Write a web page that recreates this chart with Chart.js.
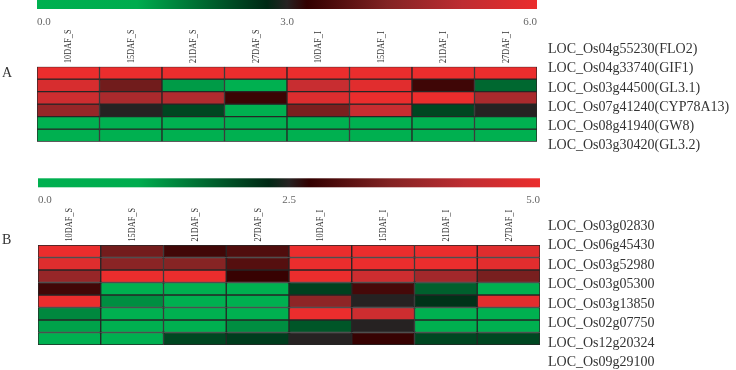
<!DOCTYPE html>
<html>
<head>
<meta charset="utf-8">
<script src="https://cdn.jsdelivr.net/npm/chart.js"></script>
<style>
  body { margin: 0; background: #fff; }
  #wrap { position: relative; width: 736px; height: 370px; }
  canvas { position: absolute; left: 0; top: 0; }
</style>
</head>
<body>
<div id="wrap">
  <canvas id="heatA" width="736" height="370"></canvas>
  <canvas id="heatB" width="736" height="370"></canvas>
</div>
<script>
// kolumner (stadier)
const columns = ["10DAF_S", "15DAF_S", "21DAF_S", "27DAF_S", "10DAF_I", "15DAF_I", "21DAF_I", "27DAF_I"];

// panel A
const genesA = ["LOC_Os04g55230(FLO2)", "LOC_Os04g33740(GIF1)", "LOC_Os03g44500(GL3.1)",
  "LOC_Os07g41240(CYP78A13)", "LOC_Os08g41940(GW8)", "LOC_Os03g30420(GL3.2)"];
const valuesA = [
  [6.0, 6.0, 6.0, 6.0, 6.0, 6.0, 6.0, 6.0],
  [5.6, 4.0, 1.4, 0.0, 5.3, 5.8, 3.4, 2.0],
  [5.4, 4.8, 4.9, 3.35, 5.7, 6.0, 6.0, 4.8],
  [4.5, 3.0, 2.4, 0.0, 4.1, 5.3, 2.4, 3.0],
  [0.0, 0.0, 0.0, 0.0, 0.0, 0.0, 0.0, 0.0],
  [0.0, 0.0, 0.0, 0.0, 0.0, 0.0, 0.0, 0.0]
];
const maxA = 6;
const ticksA = ["0.0", "3.0", "6.0"];

// panel B
const genesB = ["LOC_Os03g02830", "LOC_Os06g45430", "LOC_Os03g52980", "LOC_Os03g05300",
  "LOC_Os03g13850", "LOC_Os02g07750", "LOC_Os12g20324", "LOC_Os09g29100"];
const valuesB = [
  [5.0, 3.35, 2.85, 3.0, 5.0, 5.0, 5.0, 4.8],
  [4.8, 3.6, 3.55, 3.05, 5.0, 5.0, 5.0, 4.85],
  [3.75, 5.0, 5.0, 2.75, 5.0, 4.5, 3.9, 3.4],
  [2.85, 0.0, 0.0, 0.0, 2.05, 2.9, 1.75, 0.0],
  [5.0, 1.3, 0.0, 0.0, 3.65, 2.5, 2.2, 4.85],
  [1.35, 0.0, 0.0, 0.0, 5.0, 4.5, 0.0, 0.0],
  [1.1, 0.0, 0.0, 1.3, 1.85, 2.5, 0.3, 0.0],
  [0.0, 0.0, 2.0, 2.1, 2.5, 2.75, 2.0, 2.0]
];
const maxB = 5;
const ticksB = ["0.0", "2.5", "5.0"];

// färgskala grön - svart - röd
const colorStops = [
  [0.0, 0, 176, 80],
  [0.2, 0, 172, 78],
  [0.46, 0, 40, 20],
  [0.5, 38, 34, 34],
  [0.54, 50, 0, 0],
  [0.7, 130, 35, 35],
  [0.85, 190, 45, 50],
  [1.0, 235, 45, 45]
];

function colorFor(v, max) {
  const t = Math.min(1, Math.max(0, v / max));
  for (let i = 1; i < colorStops.length; i++) {
    const a = colorStops[i - 1], b = colorStops[i];
    if (t <= b[0]) {
      const f = (t - a[0]) / (b[0] - a[0]);
      const c = [1, 2, 3].map(k => Math.round(a[k] + (b[k] - a[k]) * f));
      return "rgb(" + c.join(",") + ")";
    }
  }
  return "rgb(235,45,45)";
}

const serif = '"Liberation Serif", "DejaVu Serif", serif';

// ritar färgskala, etiketter och gennamn
const decorations = {
  id: "decorations",
  afterDraw(chart) {
    const o = chart.options.plugins.decorations;
    const ctx = chart.ctx;
    const area = chart.chartArea;
    const xs = chart.scales.x;
    ctx.save();

    // färgstapel
    const grad = ctx.createLinearGradient(area.left, 0, area.right, 0);
    colorStops.forEach(s => grad.addColorStop(s[0], "rgb(" + s[1] + "," + s[2] + "," + s[3] + ")"));
    ctx.fillStyle = grad;
    ctx.fillRect(area.left, o.barTop, area.right - area.left, o.barHeight);

    ctx.fillStyle = "#666";
    ctx.font = "11px " + serif;
    ctx.textBaseline = "middle";
    ctx.textAlign = "left";
    ctx.fillText(o.ticks[0], area.left, o.tickY);
    ctx.textAlign = "center";
    ctx.fillText(o.ticks[1], (area.left + area.right) / 2, o.tickY);
    ctx.textAlign = "right";
    ctx.fillText(o.ticks[2], area.right, o.tickY);

    // kolumnetiketter
    ctx.fillStyle = "#333";
    ctx.font = "11px " + serif;
    ctx.textAlign = "left";
    columns.forEach((c, i) => {
      ctx.save();
      ctx.translate(xs.getPixelForValue(i), o.colBottom);
      ctx.rotate(-Math.PI / 2);
      ctx.scale(0.75, 1);
      ctx.fillText(c, 0, 0);
      ctx.restore();
    });

    // gennamn
    ctx.font = "14px " + serif;
    ctx.fillStyle = "#333";
    o.genes.forEach((g, i) => ctx.fillText(g, 548, o.rowY + i * o.rowStep));

    // panelbokstav
    ctx.font = "14px " + serif;
    ctx.fillText(o.letter, 2, o.letterY);
    ctx.restore();
  }
};

function makeHeatmap(id, genes, values, max, ticks, box) {
  const datasets = genes.map((g, r) => ({
    label: g,
    data: columns.map(() => 1),
    backgroundColor: values[r].map(v => colorFor(v, max)),
    borderColor: "#262626",
    borderWidth: 1,
    borderSkipped: false,
    barPercentage: 1,
    categoryPercentage: 1
  }));
  return new Chart(document.getElementById(id), {
    type: "bar",
    data: { labels: columns, datasets },
    options: {
      responsive: false,
      animation: false,
      events: [],
      layout: { padding: { left: box.left, right: 736 - box.right, top: box.top, bottom: 370 - box.bottom } },
      scales: {
        x: { stacked: true, display: false },
        y: { stacked: true, display: false, min: 0, max: genes.length, reverse: true }
      },
      plugins: {
        legend: { display: false },
        tooltip: { enabled: false },
        decorations: {
          genes, ticks,
          barTop: box.barTop, barHeight: 9, tickY: box.tickY, colBottom: box.colBottom,
          rowY: box.rowY, rowStep: box.rowStep, letter: box.letter, letterY: box.letterY
        }
      }
    },
    plugins: [decorations]
  });
}

makeHeatmap("heatA", genesA, valuesA, maxA, ticksA, {
  left: 37, right: 537, top: 66.7, bottom: 141.7,
  barTop: 0, tickY: 22, colBottom: 63, rowY: 49.5, rowStep: 19.2, letter: "A", letterY: 73
});
makeHeatmap("heatB", genesB, valuesB, maxB, ticksB, {
  left: 38, right: 540, top: 245, bottom: 345,
  barTop: 178.3, tickY: 200, colBottom: 241.5, rowY: 226, rowStep: 19.5, letter: "B", letterY: 240
});
</script>
</body>
</html>
